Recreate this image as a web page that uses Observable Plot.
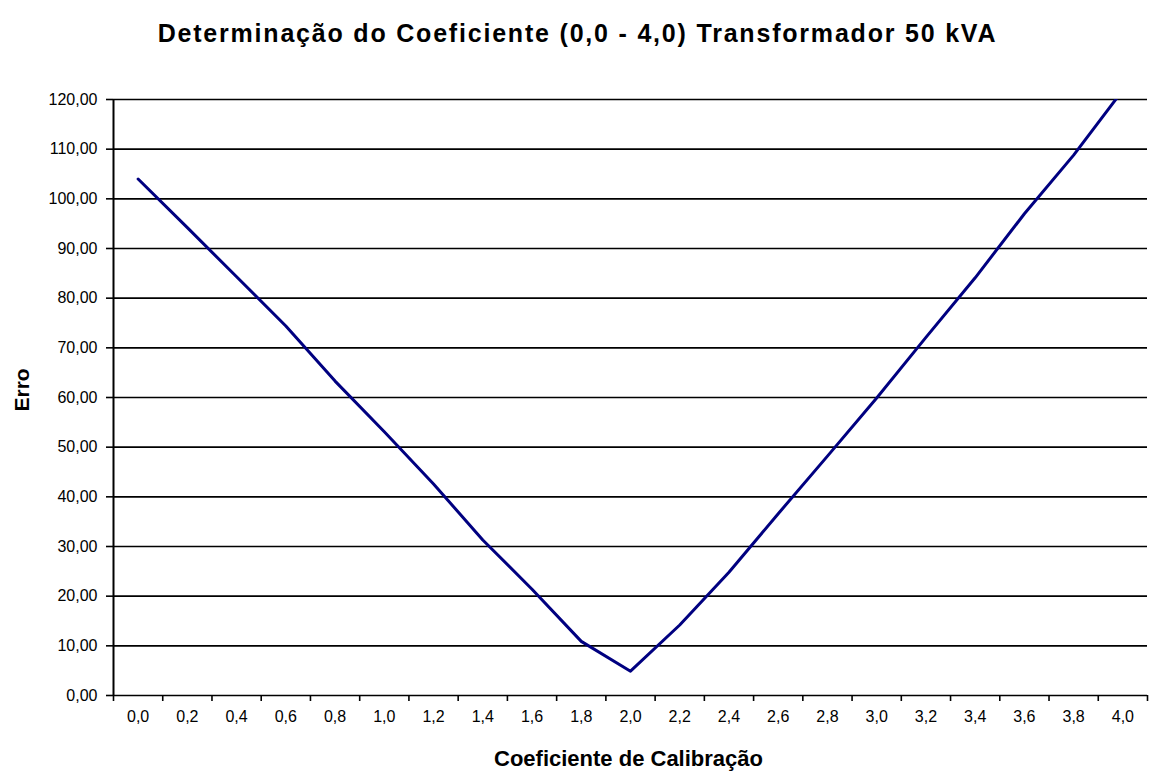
<!DOCTYPE html>
<html>
<head>
<meta charset="utf-8">
<script src="https://cdn.jsdelivr.net/npm/d3@7"></script>
<script src="https://cdn.jsdelivr.net/npm/@observablehq/plot@0.6"></script>
<style>
  html, body { margin: 0; padding: 0; background: #fff; }
  #wrap { width: 1149px; }
  #title {
    height: 60px; line-height: 66px; text-align: center;
    font-family: "Liberation Sans", Arial, sans-serif; font-weight: bold; font-size: 25px;
    letter-spacing: 1.8px; color: #000; padding-left: 6px;
  }
</style>
</head>
<body>
<div id="wrap">
  <div id="title">Determinação do Coeficiente (0,0 - 4,0) Transformador 50 kVA</div>
  <div id="chart"></div>
</div>
<script>
// Data
const coef = [0.0, 0.2, 0.4, 0.6, 0.8, 1.0, 1.2, 1.4, 1.6, 1.8, 2.0, 2.2, 2.4, 2.6, 2.8, 3.0, 3.2, 3.4, 3.6, 3.8, 4.0];
const erro = [104.0, 94.2, 84.3, 74.4, 63.3, 53.1, 42.6, 31.3, 21.4, 10.9, 4.9, 14.2, 24.8, 36.6, 48.2, 59.9, 72.1, 84.1, 97.0, 108.8, 121.9];
const yTicks = [0, 10, 20, 30, 40, 50, 60, 70, 80, 90, 100, 110, 120];
const xLabels = ["0,0","0,2","0,4","0,6","0,8","1,0","1,2","1,4","1,6","1,8","2,0","2,2","2,4","2,6","2,8","3,0","3,2","3,4","3,6","3,8","4,0"];
const titleY = "Erro";
const titleX = "Coeficiente de Calibração";

const data = coef.map((c, i) => ({coef: c, erro: erro[i]}));
const half = 0.1; // half category width
const boundaries = coef.map(c => c - half).concat([coef[coef.length - 1] + half]);

const font = "'Liberation Sans', Arial, sans-serif";

const chart = Plot.plot({
  width: 1149,
  height: 716,
  marginLeft: 113,
  marginRight: 2,
  marginTop: 39,
  marginBottom: 81,
  style: {fontFamily: font, color: "#000", background: "#fff", overflow: "visible"},
  x: {domain: [coef[0] - half, coef[coef.length - 1] + half]},
  y: {domain: [0, 120]},
  marks: [
    Plot.ruleY(yTicks, {stroke: "#000", strokeWidth: 1.6}),
    Plot.axisY({ticks: yTicks, tickSize: 7, tickPadding: 9, strokeWidth: 1.6, fontSize: 16,
      tickFormat: d => d.toFixed(2).replace(".", ","), label: null}),
    Plot.axisX({ticks: boundaries, tickSize: 6, strokeWidth: 1.6, tickFormat: () => "", label: null}),
    Plot.axisX({ticks: coef, tickSize: 0, tickPadding: 15, fontSize: 16,
      tickFormat: d => xLabels[coef.indexOf(d)] ?? "", label: null}),
    Plot.ruleX([coef[0] - half], {stroke: "#000", strokeWidth: 2}),
    Plot.line(data, {x: "coef", y: "erro", stroke: "#000080", strokeWidth: 3, clip: true}),
    Plot.text([titleY], {frameAnchor: "left", dx: -91, dy: 14, rotate: -90, text: d => d,
      fontSize: 21, fontWeight: "bold", fill: "#000", style: "letter-spacing:1px"}),
    Plot.text([titleX], {frameAnchor: "bottom", dy: 70, dx: -2, text: d => d,
      fontSize: 22, fontWeight: "bold", fill: "#000", style: "letter-spacing:1.7px"})
  ]
});
document.getElementById("chart").appendChild(chart);
</script>
</body>
</html>
